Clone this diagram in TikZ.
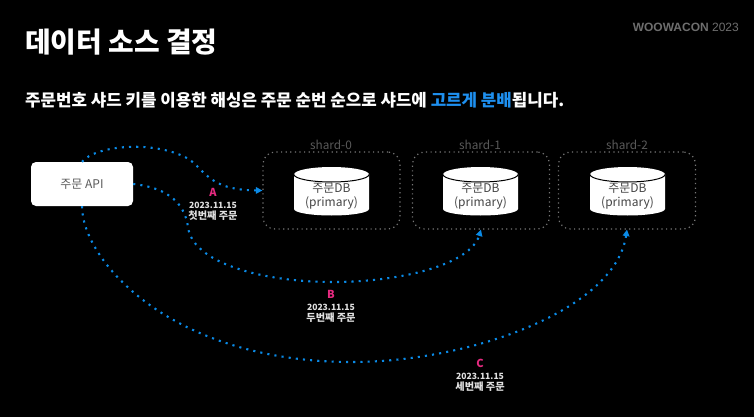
\documentclass[tikz,border=0pt]{standalone}
\usepackage{fontspec}
\setmainfont{Noto Sans CJK KR}
\newfontfamily\latinf{Liberation Sans}
\usetikzlibrary{arrows.meta}
\definecolor{flowblue}{HTML}{0A8AE6}
\definecolor{pinkl}{HTML}{E62A80}
\definecolor{hilite}{HTML}{1E90F0}
\definecolor{shardline}{HTML}{777777}
\definecolor{shardtxt}{HTML}{5A5A5A}
\definecolor{dbtxt}{HTML}{444444}
\definecolor{logotxt}{HTML}{6E6E6E}
\tikzset{
  shardbox/.style={draw=shardline,line width=1.2pt,dash pattern=on 1.2pt off 3.4pt,rounded corners=12pt,minimum width=137pt,minimum height=77pt,inner sep=0pt},
  shardlabel/.style={text=shardtxt,font=\fontsize{11.8}{12}\selectfont,inner sep=0pt},
  dblabel/.style={text=dbtxt,font=\fontsize{12}{14}\selectfont,align=center,inner sep=0pt},
  flow/.style={draw=flowblue,line width=2.1pt,dash pattern=on 2.1pt off 5.1pt,-{Triangle[length=6.5pt,width=6.5pt]}},
  letterl/.style={text=pinkl,font=\bfseries\fontsize{11}{12}\selectfont,inner sep=0pt},
  infol/.style={text=white!88!black,font=\bfseries\fontsize{8.6}{11}\selectfont,inner sep=0pt},
  orderl/.style={text=white!88!black,font=\bfseries\fontsize{10.2}{11}\selectfont,inner sep=0pt},
}
\newcommand{\dbcyl}[3]{% center x, name, unused
  \fill[white] (#1-37.5,174.5) arc[start angle=180,end angle=360,x radius=37.5,y radius=7.5]
     -- (#1+37.5,209) arc[start angle=0,end angle=180,x radius=37.5,y radius=6.5] -- cycle;
  \draw[black,line width=1pt] (#1-37.5,174.5) arc[start angle=180,end angle=0,x radius=37.5,y radius=7.5];
  \node[dblabel] (#2) at (#1,196) {주문DB\\(primary)};
}
\begin{document}
\begin{tikzpicture}[x=1pt,y=-1pt]
\useasboundingbox (0,0) rectangle (754,417);
\fill[black] (0,0) rectangle (754,417);
\node[anchor=west,text=white,font=\bfseries\fontsize{27.9}{30}\selectfont,inner sep=0pt] (title) at (25,42) {데이터 소스 결정};
\node[anchor=west,text=white,font=\bfseries\fontsize{16.8}{20}\selectfont,inner sep=0pt] (sub) at (25,100) {주문번호 샤드 키를 이용한 해싱은 주문 순번 순으로 샤드에 \textcolor{hilite}{고르게 분배}됩니다.};
\node[anchor=east,text=logotxt,inner sep=0pt,font=\latinf\fontsize{12}{14}\selectfont] (logo) at (739,27) {\textbf{WOOWACON} 2023};
\node[fill=white,rounded corners=5pt,minimum width=102pt,minimum height=44pt,inner sep=0pt,text=shardtxt,font=\fontsize{12}{14}\selectfont] (api) at (82,184) {주문 API};
\node[shardbox] (s0) at (331.5,190.5) {};
\node[shardbox] (s1) at (481,190.5) {};
\node[shardbox] (s2) at (627,190.5) {};
\node[shardlabel] (l0) at (331,145) {shard-0};
\node[shardlabel] (l1) at (480,145) {shard-1};
\node[shardlabel] (l2) at (627,145) {shard-2};
\dbcyl{331.5}{db0}{}
\dbcyl{480.5}{db1}{}
\dbcyl{627.5}{db2}{}
\draw[flow] (api.north) .. controls (95,146) and (150,140) .. (185,157)
   .. controls (205,167) and (205,190) .. (s0.west);
\draw[flow] (api.east) .. controls (170,188) and (185,205) .. (188,227)
   .. controls (192,262) and (260,282) .. (333,282)
   .. controls (400,282) and (470,265) .. (s1.south);
\draw[flow] (api.south) .. controls (82,260) and (170,362) .. (352,362)
   .. controls (470,362) and (615,310) .. (s2.south);
\node[letterl] (a) at (213,192) {A};
\node[infol] (a1) at (213,205) {2023.11.15};
\node[orderl] (a2) at (213,216) {첫번째 주문};
\node[letterl] (b) at (331,294.5) {B};
\node[infol] (b1) at (331,307) {2023.11.15};
\node[orderl] (b2) at (331,318) {두번째 주문};
\node[letterl] (c) at (480,363.5) {C};
\node[infol] (c1) at (480,376) {2023.11.15};
\node[orderl] (c2) at (480,387) {세번째 주문};
\end{tikzpicture}
\end{document}
